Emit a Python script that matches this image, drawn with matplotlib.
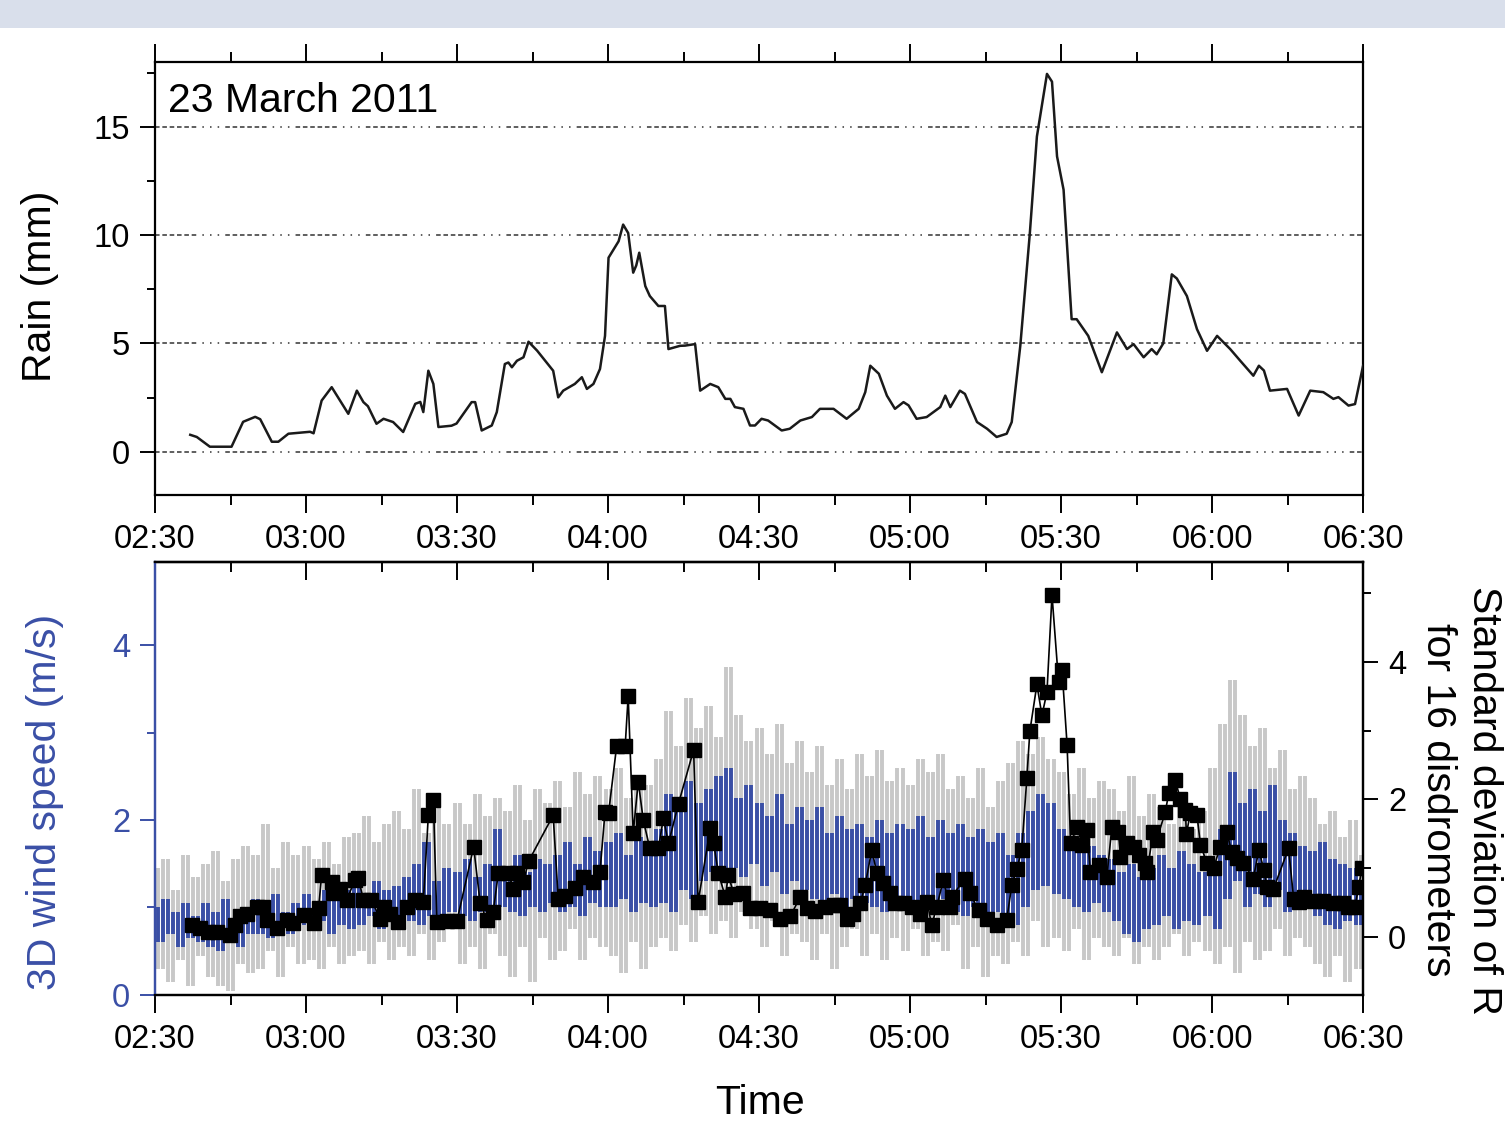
import numpy as np
import matplotlib
matplotlib.use("Agg")
import matplotlib.pyplot as plt
from matplotlib.patches import Rectangle
from matplotlib.ticker import MultipleLocator, FixedLocator

plt.rcParams['font.family'] = ['Liberation Sans', 'DejaVu Sans']

# time axis: minutes after 02:30
time_ticks = [0, 30, 60, 90, 120, 150, 180, 210, 240]
time_labels = ["02:30", "03:00", "03:30", "04:00", "04:30",
               "05:00", "05:30", "06:00", "06:30"]

# rain (mm), top panel
rain_min = [7.0, 8.3, 10.9, 15.2, 17.5, 19.9, 20.9, 23.2, 24.5, 26.5,
            30.8, 31.5, 33.1, 35.1, 38.4, 40.1, 41.4, 42.3, 44.0, 45.4,
            47.3, 49.3, 51.7, 52.7, 53.3, 54.3, 55.3, 56.3, 58.9, 59.9,
            62.9, 63.6, 64.9, 66.9, 67.9, 69.5, 70.2, 70.9, 71.9, 73.2,
            74.2, 75.9, 79.1, 80.1, 81.1, 83.4, 84.8, 85.8, 87.1, 88.4,
            89.4, 90.1, 91.1, 92.1, 93.0, 94.0, 95.0, 95.6, 96.2, 97.4,
            98.3, 100.0, 101.3, 102.0, 104.3, 105.3, 107.3, 108.3, 110.3, 111.9,
            113.3, 114.3, 115.2, 116.9, 118.2, 119.2, 120.5, 121.8, 124.5, 126.1,
            128.2, 130.5, 132.1, 134.8, 137.4, 139.8, 141.1, 142.1, 143.8, 145.4,
            147.0, 148.7, 149.7, 151.3, 153.3, 156.0, 157.0, 158.0, 159.9, 160.9,
            163.3, 165.3, 167.2, 169.2, 170.2, 171.9, 173.8, 175.2, 177.2, 178.2,
            179.2, 180.5, 182.1, 183.1, 185.4, 188.1, 191.1, 193.1, 194.4, 196.4,
            198.0, 199.0, 200.3, 202.0, 203.0, 205.0, 207.0, 209.0, 211.0, 213.6,
            215.6, 218.2, 219.3, 220.3, 221.5, 224.9, 227.2, 229.5, 232.1, 234.1,
            235.1, 237.1, 238.4, 240.0]
rain_mm = [0.78, 0.68, 0.23, 0.23, 1.38, 1.61, 1.50, 0.46, 0.46, 0.83,
           0.92, 0.85, 2.36, 2.98, 1.75, 2.82, 2.29, 2.10, 1.29, 1.52,
           1.37, 0.91, 2.21, 2.30, 1.83, 3.74, 3.13, 1.14, 1.20, 1.30,
           2.29, 2.29, 0.98, 1.21, 1.83, 4.05, 4.12, 3.90, 4.20, 4.36,
           5.08, 4.67, 3.74, 2.51, 2.82, 3.13, 3.44, 2.90, 3.13, 3.82,
           5.35, 8.96, 9.34, 9.72, 10.49, 10.10, 8.27, 8.60, 9.19, 7.65,
           7.19, 6.73, 6.73, 4.74, 4.89, 4.90, 4.97, 2.82, 3.13, 2.98,
           2.44, 2.44, 2.06, 1.98, 1.21, 1.21, 1.52, 1.44, 0.98, 1.06,
           1.44, 1.60, 1.98, 1.98, 1.52, 1.98, 2.75, 3.97, 3.60, 2.59,
           1.98, 2.29, 2.14, 1.52, 1.60, 2.06, 2.59, 2.06, 2.82, 2.67,
           1.37, 1.06, 0.68, 0.83, 1.37, 4.89, 10.10, 14.56, 17.45, 17.09,
           13.64, 12.10, 6.12, 6.12, 5.35, 3.67, 5.51, 4.74, 4.97, 4.36,
           4.74, 4.50, 5.00, 8.19, 8.00, 7.19, 5.66, 4.66, 5.35, 4.74,
           4.20, 3.51, 3.97, 3.75, 2.82, 2.90, 1.67, 2.82, 2.75, 2.44,
           2.52, 2.13, 2.20, 3.97]

# 3D wind speed (m/s), one value per minute from 02:30
wind_gray = [1.45, 0.30, 1.55, 0.15, 1.20, 0.40, 1.60, 0.10, 1.35, 0.45,
             1.50, 0.20, 1.65, 0.10, 1.30, 0.05, 1.55, 0.35, 1.70, 0.25,
             1.60, 0.30, 1.95, 0.50, 1.45, 0.20, 1.75, 0.55, 1.60, 0.35,
             1.70, 0.40, 1.55, 0.30, 1.75, 0.55, 1.50, 0.35, 1.80, 0.45,
             1.85, 0.50, 2.05, 0.35, 1.75, 0.60, 1.95, 0.40, 2.10, 0.55,
             1.90, 0.45, 2.35, 0.70, 1.85, 0.40, 2.15, 0.60, 1.95, 0.75,
             2.20, 0.35, 1.95, 0.55, 2.30, 0.30, 2.05, 0.70, 2.25, 0.45,
             2.10, 0.20, 2.40, 0.55, 2.00, 0.15, 2.35, 0.65, 2.20, 0.40,
             2.45, 0.50, 2.15, 0.75, 2.55, 0.40, 2.30, 0.65, 2.50, 0.55,
             2.35, 0.45, 2.60, 0.25, 2.25, 0.60, 2.50, 0.30, 2.40, 0.55,
             2.70, 0.65, 3.25, 0.50, 2.85, 0.80, 3.40, 0.60, 3.05, 0.90,
             3.30, 0.70, 2.95, 0.85, 3.75, 0.65, 3.20, 0.95, 2.90, 0.75,
             3.05, 0.55, 2.75, 0.85, 3.10, 0.45, 2.65, 0.70, 2.90, 0.60,
             2.55, 0.40, 2.85, 0.70, 2.40, 0.30, 2.70, 0.55, 2.35, 0.75,
             2.75, 0.45, 2.50, 0.70, 2.80, 0.40, 2.45, 0.65, 2.60, 0.50,
             2.40, 0.75, 2.70, 0.45, 2.55, 0.60, 2.75, 0.50, 2.35, 0.80,
             2.50, 0.30, 2.25, 0.55, 2.60, 0.20, 2.15, 0.45, 2.45, 0.35,
             2.65, 0.60, 2.90, 0.45, 2.75, 0.85, 2.95, 0.55, 2.70, 0.65,
             2.55, 0.50, 2.30, 0.75, 2.60, 0.40, 2.25, 0.65, 2.45, 0.55,
             2.35, 0.45, 2.10, 0.65, 2.50, 0.35, 2.05, 0.55, 2.30, 0.40,
             2.15, 0.55, 1.95, 0.70, 2.20, 0.45, 1.90, 0.60, 2.10, 0.50,
             2.60, 0.35, 3.10, 0.55, 3.60, 0.25, 3.20, 0.60, 2.85, 0.40,
             3.05, 0.50, 2.60, 0.75, 2.80, 0.45, 2.35, 0.65, 2.50, 0.55,
             2.25, 0.35, 1.95, 0.20, 2.10, 0.45, 1.80, 0.15, 2.00, 0.30,
             1.60]
wind_blue = [1.00, 0.60, 1.10, 0.70, 0.95, 0.55, 1.05, 0.65, 0.90, 0.60,
             1.05, 0.55, 0.95, 0.50, 1.10, 0.65, 0.85, 0.55, 1.00, 0.70,
             1.10, 0.70, 1.00, 0.65, 1.15, 0.75, 0.95, 0.70, 1.05, 0.80,
             1.15, 0.75, 1.05, 0.85, 1.20, 0.70, 1.10, 0.80, 1.20, 0.75,
             1.25, 0.80, 1.15, 0.90, 1.30, 0.75, 1.20, 0.85, 1.25, 0.80,
             1.35, 0.85, 1.50, 0.80, 1.75, 0.90, 1.30, 0.85, 1.45, 0.95,
             1.40, 0.90, 1.55, 0.85, 1.35, 0.95, 1.50, 0.90, 1.90, 1.00,
             1.45, 0.95, 1.60, 0.90, 1.40, 1.00, 1.55, 0.95, 1.50, 1.05,
             1.60, 0.95, 1.75, 1.00, 1.50, 0.90, 1.80, 1.05, 1.65, 1.00,
             1.75, 1.00, 1.85, 1.10, 1.60, 0.95, 1.80, 1.05, 1.70, 1.00,
             1.90, 1.05, 2.30, 0.95, 2.10, 1.20, 2.45, 1.10, 2.20, 1.30,
             2.35, 1.40, 2.50, 1.30, 2.60, 1.45, 2.25, 1.35, 2.40, 1.50,
             2.20, 1.25, 2.05, 1.40, 2.30, 1.15, 1.95, 1.30, 2.15, 1.20,
             2.00, 1.10, 2.15, 0.95, 1.85, 1.15, 2.05, 1.00, 1.90, 1.10,
             1.95, 1.05, 1.80, 1.00, 2.00, 0.95, 1.85, 1.10, 1.95, 1.00,
             1.90, 1.00, 2.05, 1.05, 1.80, 0.95, 2.00, 1.10, 1.85, 0.95,
             1.95, 0.90, 1.80, 1.00, 1.90, 0.85, 1.75, 0.95, 1.85, 0.90,
             1.60, 0.80, 1.85, 1.00, 2.10, 1.20, 2.30, 1.25, 2.20, 1.15,
             1.90, 1.10, 1.80, 1.00, 1.75, 0.95, 1.70, 1.05, 1.60, 0.95,
             1.55, 0.85, 1.40, 0.70, 1.50, 0.60, 1.35, 0.75, 1.45, 0.80,
             1.60, 0.90, 1.45, 0.75, 1.65, 0.85, 1.50, 0.80, 1.40, 0.90,
             1.50, 0.75, 1.90, 1.10, 2.55, 1.30, 2.20, 1.00, 2.35, 1.15,
             2.10, 1.00, 2.40, 1.20, 2.00, 0.95, 1.85, 1.05, 1.70, 1.00,
             1.65, 0.90, 1.75, 0.80, 1.55, 0.75, 1.50, 0.85, 1.45, 0.80,
             1.20]
wind_min = np.arange(len(wind_gray))

# standard deviation of R for 16 disdrometers (right axis)
std_min = [7.3, 8.9, 10.6, 12.3, 14.9, 15.9, 16.9, 18.2, 20.2, 21.5,
           22.2, 24.2, 26.2, 27.5, 29.5, 31.5, 32.5, 33.1, 35.1, 35.4,
           36.8, 38.1, 39.7, 40.4, 41.4, 43.0, 44.7, 45.4, 46.7, 48.3,
           50.0, 51.7, 53.3, 54.3, 55.3, 56.0, 58.0, 60.0, 63.3, 64.6,
           65.9, 67.2, 68.2, 70.2, 71.2, 71.9, 73.2, 74.2, 79.1, 80.1,
           81.5, 83.4, 85.1, 87.1, 88.4, 89.4, 90.1, 91.7, 93.4, 94.0,
           95.0, 96.0, 97.0, 98.3, 100.0, 101.0, 102.0, 104.0, 107.0, 107.9,
           110.3, 111.0, 111.9, 113.3, 113.9, 115.0, 116.9, 118.2, 120.2, 122.2,
           124.2, 126.2, 128.2, 129.5, 131.2, 133.2, 134.8, 136.1, 137.4, 138.7,
           140.1, 141.1, 142.4, 143.4, 144.7, 146.1, 147.0, 148.7, 150.4, 152.0,
           153.4, 154.3, 155.3, 156.6, 157.9, 158.3, 160.9, 161.9, 163.6, 165.3,
           167.2, 169.2, 170.2, 171.2, 172.2, 173.2, 173.8, 175.2, 176.2, 177.2,
           178.2, 179.5, 180.2, 181.2, 181.9, 183.2, 184.2, 185.2, 185.8, 187.5,
           189.1, 190.1, 191.4, 191.8, 193.1, 194.4, 195.4, 196.7, 197.1, 198.3,
           199.0, 200.7, 201.4, 202.7, 203.7, 204.7, 204.9, 205.7, 207.0, 207.7,
           209.0, 210.3, 211.6, 212.9, 213.9, 214.9, 216.2, 218.2, 219.3, 220.3,
           220.9, 222.2, 225.2, 226.2, 227.2, 228.2, 230.2, 232.1, 234.1, 236.1,
           237.1, 238.4, 239.1, 239.8]
std_r = [0.17, 0.13, 0.08, 0.08, 0.03, 0.17, 0.30, 0.34, 0.44, 0.44,
         0.25, 0.13, 0.25, 0.20, 0.32, 0.20, 0.42, 0.90, 0.80, 0.64,
         0.70, 0.54, 0.83, 0.86, 0.54, 0.54, 0.27, 0.44, 0.34, 0.22,
         0.44, 0.54, 0.51, 1.77, 1.99, 0.22, 0.24, 0.24, 1.31, 0.49,
         0.25, 0.37, 0.93, 0.93, 0.70, 0.93, 0.80, 1.10, 1.77, 0.56,
         0.60, 0.71, 0.88, 0.80, 0.95, 1.82, 1.80, 2.77, 2.77, 3.50,
         1.51, 2.26, 1.70, 1.29, 1.29, 1.73, 1.36, 1.94, 2.72, 0.51,
         1.58, 1.36, 0.93, 0.59, 0.90, 0.62, 0.64, 0.42, 0.42, 0.40,
         0.27, 0.30, 0.59, 0.42, 0.38, 0.44, 0.46, 0.46, 0.27, 0.34,
         0.49, 0.76, 1.27, 0.93, 0.78, 0.64, 0.49, 0.49, 0.44, 0.34,
         0.51, 0.17, 0.44, 0.83, 0.44, 0.59, 0.85, 0.64, 0.39, 0.27,
         0.17, 0.25, 0.75, 0.99, 1.27, 2.31, 2.99, 3.67, 3.22, 3.56,
         4.97, 3.71, 3.88, 2.79, 1.36, 1.60, 1.34, 1.56, 0.95, 1.05,
         0.88, 1.60, 1.53, 1.17, 1.36, 1.31, 1.19, 1.07, 0.95, 1.53,
         1.41, 1.82, 2.09, 2.28, 2.00, 1.85, 1.50, 1.81, 1.77, 1.34,
         1.07, 1.00, 1.31, 1.53, 1.24, 1.15, 1.07, 0.85, 1.27, 0.97,
         0.73, 0.70, 1.29, 0.56, 0.51, 0.59, 0.53, 0.53, 0.50, 0.50,
         0.44, 0.44, 0.73, 1.00]

blue = '#3a4fa6'
fs_tick = 23.5
fs_label = 29.5

fig = plt.figure(figsize=(15.05, 11.25), dpi=100)
fig.add_artist(Rectangle((0, 1 - 28 / 1125), 1, 28 / 1125, transform=fig.transFigure,
                         facecolor='#d9dfeb', edgecolor='none', zorder=0))

ax1 = fig.add_axes([0.103, 0.560, 0.8027, 0.3849])
ax2 = fig.add_axes([0.103, 0.1156, 0.8027, 0.3849])

# ---- top panel: rain
ax1.plot(rain_min, rain_mm, color='#1a1a1a', lw=1.8, zorder=3)
ax1.set_xlim(0, 240)
ax1.set_ylim(-2, 18)
ax1.yaxis.set_major_locator(MultipleLocator(5))
ax1.yaxis.set_minor_locator(MultipleLocator(2.5))
ax1.grid(axis='y', which='major', color='#333333', lw=1.1,
         linestyle=(0, (3, 1.8, 3, 1.8, 3, 1.8, 3, 1.8, 3, 1.8, 3, 4, 1, 4, 1, 4, 1, 4)))
ax1.text(2.6, 16.2, '23 March 2011', fontsize=fs_label, va='center', ha='left')

for ax in (ax1, ax2):
    ax.set_xlim(0, 240)
    ax.xaxis.set_major_locator(FixedLocator(time_ticks))
    ax.xaxis.set_minor_locator(MultipleLocator(15))
    ax.set_xticklabels(time_labels, fontsize=fs_tick)
    for s in ax.spines.values():
        s.set_linewidth(1.6)

ax1.tick_params(axis='x', which='both', direction='out', top=True, bottom=True,
                width=1.4, pad=8)
ax1.tick_params(axis='x', which='major', length=13)
ax1.tick_params(axis='x', which='minor', length=7)
ax1.tick_params(axis='y', which='both', direction='out', left=True, right=False,
                width=1.4, labelsize=fs_tick, pad=7)
ax1.tick_params(axis='y', which='major', length=11)
ax1.tick_params(axis='y', which='minor', length=6)

# ---- bottom panel: wind speed and std
# each sample-to-sample swing drawn as a vertical streak
g = np.asarray(wind_gray)
b = np.asarray(wind_blue)
ax2.vlines(wind_min[:-1] + 0.5, np.minimum(g[:-1], g[1:]), np.maximum(g[:-1], g[1:]),
           color='#c8c8c8', lw=2.8, zorder=1)
ax2.vlines(wind_min[:-1] + 0.5, np.minimum(b[:-1], b[1:]), np.maximum(b[:-1], b[1:]),
           color=blue, lw=2.8, zorder=2)
ax2.set_ylim(0, 4.95)
ax2.yaxis.set_major_locator(FixedLocator([0, 2, 4]))
ax2.yaxis.set_minor_locator(FixedLocator([1, 3]))
ax2.spines['left'].set_color(blue)
ax2.tick_params(axis='x', which='both', direction='out', top=False, bottom=True,
                width=1.4, pad=8)
ax2.tick_params(axis='x', which='major', length=13)
ax2.tick_params(axis='x', which='minor', length=7)
ax2.tick_params(axis='y', which='both', direction='out', left=True, right=False,
                width=1.4, color=blue, labelcolor=blue, labelsize=fs_tick, pad=7)
ax2.tick_params(axis='y', which='major', length=11)
ax2.tick_params(axis='y', which='minor', length=6)

top = ax2.secondary_xaxis('top')
top.xaxis.set_major_locator(FixedLocator(time_ticks))
top.xaxis.set_minor_locator(MultipleLocator(15))
top.tick_params(axis='x', which='both', direction='in', labeltop=False, width=1.4)
top.tick_params(axis='x', which='major', length=13)
top.tick_params(axis='x', which='minor', length=7)
top.spines['top'].set_linewidth(1.6)

ax3 = ax2.twinx()
ax3.plot(std_min, std_r, color='black', lw=1.2, marker='s', markersize=10,
         markerfacecolor='black', markeredgecolor='black')
ax3.set_ylim(-0.84, 5.45)
ax3.yaxis.set_major_locator(FixedLocator([0, 2, 4]))
ax3.yaxis.set_minor_locator(FixedLocator([1, 3, 5]))
ax3.tick_params(axis='y', which='both', direction='out', width=1.4,
                labelsize=fs_tick, pad=7)
ax3.tick_params(axis='y', which='major', length=11)
ax3.tick_params(axis='y', which='minor', length=6)
ax3.spines['left'].set_color(blue)
for s in ax3.spines.values():
    s.set_linewidth(1.6)

# ---- axis titles
fig.text(40 / 1505, 1 - 286 / 1125, 'Rain (mm)', rotation=90, fontsize=fs_label,
         ha='center', va='center')
fig.text(45 / 1505, 1 - 802 / 1125, '3D wind speed (m/s)', rotation=90,
         fontsize=fs_label, color=blue, ha='center', va='center')
fig.text(1461 / 1505, 1 - 800 / 1125, 'Standard deviation of R\nfor 16 disdrometers',
         rotation=270, fontsize=fs_label, ha='center', va='center',
         multialignment='center', linespacing=1.25)
fig.text(760 / 1505, 1 - 1103 / 1125, 'Time', fontsize=fs_label, ha='center', va='center')

fig.savefig('out.png', dpi=100)
